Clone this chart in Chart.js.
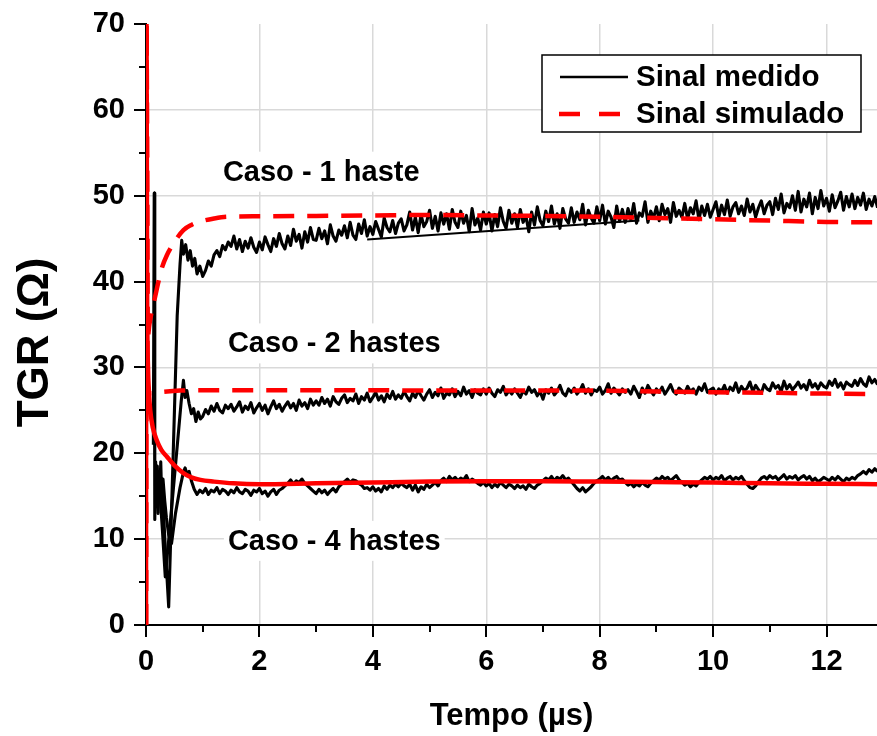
<!DOCTYPE html>
<html>
<head>
<meta charset="utf-8">
<script src="https://cdn.jsdelivr.net/npm/chart.js@4.4.1/dist/chart.umd.min.js"></script>
<style>
  html, body { margin: 0; padding: 0; background: #fff; }
  canvas { display: block; }
</style>
</head>
<body>
<canvas id="grafico" width="877" height="736"></canvas>
<script>
// ---- Marcas dos eixos ----
const marcasTempo = [0, 1, 2, 3, 4, 5, 6, 7, 8, 9, 10, 11, 12];
const marcasTGR = [0, 5, 10, 15, 20, 25, 30, 35, 40, 45, 50, 55, 60, 65, 70];

// ---- Sinal simulado (curvas suaves) ----
const tempoSim1 = [0, 0.008, 0.03, 0.06, 0.10, 0.16, 0.22, 0.28, 0.37, 0.52, 0.66, 0.80, 0.96, 1.2, 1.43, 2, 3, 4, 5, 6, 7, 8, 9, 10, 11, 12, 12.9];
const simulado1 = [0, 72, 33.5, 35, 36.5, 38.2, 40, 41.6, 43.1, 44.8, 46.0, 46.6, 47.0, 47.35, 47.55, 47.6, 47.65, 47.7, 47.75, 47.7, 47.65, 47.55, 47.4, 47.25, 47.1, 46.95, 46.9];

const tempoSim2 = [0, 0.008, 0.03, 0.06, 0.1, 0.3, 0.6, 1, 2, 3, 4, 5, 6, 7, 8, 9, 10, 11, 12, 12.9];
const simulado2 = [0, 72, 27.6, 27.0, 27.0, 27.15, 27.3, 27.35, 27.35, 27.35, 27.35, 27.3, 27.3, 27.3, 27.3, 27.2, 27.1, 27.05, 26.95, 26.9];

const tempoSim4 = [0, 0.008, 0.02, 0.035, 0.05, 0.075, 0.12, 0.19, 0.27, 0.37, 0.5, 0.66, 0.8, 0.96, 1.2, 1.54, 2, 3, 4, 5, 6, 7, 8, 9, 10, 11, 12, 12.9];
const simulado4 = [0, 72, 38, 30, 27.4, 25, 23, 21.5, 20.4, 19.6, 18.6, 17.7, 17.2, 16.9, 16.7, 16.5, 16.4, 16.5, 16.6, 16.7, 16.75, 16.75, 16.7, 16.65, 16.6, 16.5, 16.45, 16.4];

// ---- Sinal medido: trecho transitório (instantes irregulares) ----
const tempoTrans1 = [0.28, 0.34, 0.40, 0.48, 0.55, 0.60, 0.63, 0.66, 0.70, 0.74, 0.78, 0.82, 0.86, 0.90, 0.95];
const medidoTrans1 = [17, 9, 2.1, 20, 36, 42, 44.8, 43.2, 44.3, 42.5, 43.6, 41.8, 42.7, 40.9, 41.8];

const tempoTrans2 = [0.24, 0.29, 0.34, 0.45, 0.55, 0.62, 0.66, 0.69, 0.72, 0.76, 0.80, 0.84, 0.88, 0.92, 0.96];
const medidoTrans2 = [16, 11, 5.6, 13.5, 20.8, 26, 28.5, 26.5, 27.3, 25.8, 24.6, 25.2, 23.7, 24.8, 24.0];

const tempoTrans4 = [0.13, 0.145, 0.155, 0.17, 0.185, 0.20, 0.215, 0.23, 0.245, 0.26, 0.28, 0.30, 0.33, 0.36, 0.40, 0.45, 0.52, 0.60, 0.66, 0.69, 0.72, 0.76, 0.80, 0.85, 0.90, 0.95];
const medidoTrans4 = [21, 50.3, 12.3, 19, 14.5, 18.5, 13, 17.5, 15, 19, 14, 17, 14.5, 12.5, 10.5, 9.5, 13, 16, 17.8, 18.3, 17.6, 17.9, 16.8, 15.8, 15.2, 15.7];

// ---- Sinal medido: registro amostrado a cada 0,05 µs a partir de 1,0 µs ----
const INICIO_AMOSTRAS = 1.0;
const PASSO_AMOSTRAS = 0.05;

const medido1 = [
  40.6, 41.3, 42.4, 41.8, 43.1, 43.6, 42.9, 44.2, 43.7, 44.6,
  44.1, 45.3, 43.8, 44.9, 43.5, 44.7, 43.9, 45.1, 44.0, 43.4,
  44.6, 43.7, 45.2, 44.3, 43.5, 45.0, 44.1, 45.6, 44.4, 43.8,
  45.3, 44.2, 46.1, 44.7, 45.5, 43.9, 45.8, 44.6, 46.3, 44.9,
  44.8, 46.2, 45.0, 45.9, 44.4, 46.6, 45.3, 44.7, 46.0, 45.4,
  46.5, 45.1, 46.9, 45.4, 44.9, 46.7, 45.6, 47.2, 45.3, 46.4,
  45.5, 47.0, 46.1, 45.2, 47.4, 46.3, 45.8, 47.1, 45.6, 46.8,
  47.3, 45.9, 46.6, 48.1, 46.0, 47.5, 45.7, 47.8, 46.4, 47.0,
  48.3, 46.2, 47.6, 45.9, 48.0, 46.7, 47.9, 46.1, 48.4, 46.9,
  46.3, 48.2, 46.8, 47.7, 45.8, 48.5, 46.6, 47.4, 46.0, 48.1,
  46.7, 48.0, 45.9, 47.8, 46.4, 48.6, 47.0, 46.2, 48.3, 46.8,
  47.9, 46.3, 48.4, 46.9, 47.6, 45.8, 48.1, 46.6, 48.7, 47.1,
  46.5, 48.2, 47.0, 48.8, 46.7, 47.9, 46.2, 48.5, 47.3, 46.8,
  48.6, 46.9, 48.1, 47.2, 49.0, 46.6, 48.3, 47.4, 46.8, 48.7,
  47.1, 48.9, 46.7, 48.2, 47.5, 46.3, 48.8, 47.0, 48.4, 46.9,
  48.5, 47.2, 49.1, 46.8, 48.0, 47.6, 49.3, 46.9, 48.2, 47.4,
  48.7, 47.1, 49.0, 47.8, 48.5, 46.9, 49.2, 47.6, 48.3, 47.5,
  49.1, 47.3, 48.6, 47.9, 49.4, 47.2, 48.8, 47.7, 49.0, 47.5,
  48.4, 49.3, 47.5, 48.9, 47.8, 49.5, 47.6, 48.7, 49.2, 47.9,
  48.8, 47.7, 49.6, 48.1, 49.0, 47.5, 48.6, 49.4, 47.9, 48.9,
  49.3, 47.8, 49.7, 48.4, 50.2, 48.0, 49.1, 48.6, 50.0, 48.3,
  50.5, 48.1, 49.6, 48.7, 50.3, 47.9, 49.8, 48.5, 50.6, 48.8,
  49.7, 48.2, 50.1, 48.6, 49.4, 50.4, 48.3, 49.9, 48.7, 50.2,
  48.5, 49.8, 48.9, 50.3, 48.4, 49.6, 48.8, 49.9, 48.6
];

const medido2 = [
  24.3, 25.1, 24.6, 25.5, 24.9, 25.8, 25.0, 24.7, 25.6, 25.2,
  25.7, 24.9, 25.4, 26.0, 24.8, 25.5, 25.1, 25.9, 24.7, 25.3,
  25.8, 25.0, 25.6, 24.6, 25.4, 26.1, 25.2, 25.7, 24.9, 25.5,
  26.0, 25.3, 25.8, 25.0, 26.2, 25.5, 25.9, 25.2, 26.3, 25.6,
  26.1, 25.6, 26.5, 25.8, 26.3, 25.5, 26.6, 26.0, 25.7, 26.4,
  26.8, 25.9, 26.4, 26.1, 26.9, 25.8, 26.6, 26.2, 27.0, 26.0,
  26.5, 27.1, 26.2, 26.7, 26.0, 26.9, 26.4, 27.2, 26.3, 26.8,
  26.4, 27.2, 26.6, 26.1, 27.0, 26.5, 27.3, 26.7, 26.2, 26.9,
  27.4, 26.5, 27.1, 26.7, 27.6, 26.4, 27.0, 26.8, 27.5, 26.6,
  27.2, 26.7, 27.7, 26.9, 27.3, 26.5, 27.4, 27.0, 26.8, 27.5,
  26.9, 27.6, 27.0, 26.6, 27.4, 27.1, 27.8, 26.8, 27.3, 26.9,
  27.5, 27.0, 26.5, 27.3, 26.9, 27.7, 27.1, 27.4, 26.7, 27.2,
  26.3, 27.4, 27.0, 27.6, 26.8, 27.2, 27.9, 27.0, 26.7, 27.5,
  27.1, 27.6, 26.9, 27.3, 28.0, 27.0, 27.5, 26.8, 27.4, 27.2,
  27.7, 26.9, 27.3, 28.1, 27.0, 27.6, 27.2, 26.8, 27.5, 27.1,
  27.4, 26.9, 27.8, 27.2, 26.5, 27.6, 27.0, 27.9, 27.3, 26.8,
  27.5, 27.1, 27.7, 26.9, 27.4, 28.0, 27.2, 26.9, 27.6, 27.3,
  27.0, 27.8, 27.2, 27.5, 26.9, 27.7, 27.3, 28.1, 27.1, 27.4,
  27.6, 26.9, 27.5, 27.2, 27.9, 27.0, 27.7, 27.3, 28.2, 27.1,
  27.8, 27.3, 27.6, 28.3, 27.2, 27.9, 27.4, 27.0, 28.0, 27.5,
  27.3, 28.2, 27.6, 27.9, 27.2, 28.4, 27.5, 28.0, 27.4, 27.8,
  28.3, 27.6, 28.0, 27.4, 28.5, 27.7, 28.1, 27.5, 28.2, 27.8,
  27.6, 28.4, 27.9, 28.6, 27.7, 28.2, 27.5, 28.3, 28.0, 27.8,
  28.5, 27.9, 28.7, 28.1, 27.8, 28.9, 28.2, 28.6, 28.0
];

const medido4 = [
  15.4, 15.9, 15.2, 15.7, 15.5, 16.0, 15.3, 15.8, 15.6, 15.2,
  15.7, 15.4, 16.0, 15.5, 15.3, 15.8, 15.6, 15.1, 15.7, 15.5,
  15.9, 15.3, 15.6, 15.0, 15.5, 15.8, 15.2, 15.7, 15.9, 16.2,
  16.5, 16.9, 16.4, 16.8, 16.6, 17.0, 16.5, 16.2, 15.9, 15.6,
  15.3, 15.8, 15.4, 15.7, 15.2, 15.6, 15.9, 15.5, 16.1, 16.4,
  16.7, 17.0, 16.6, 16.9, 16.8, 16.5, 16.3, 15.9, 16.0, 15.7,
  16.1, 15.6, 15.9, 15.5, 16.2, 15.8, 16.3, 16.0, 16.4, 16.1,
  16.5, 16.2, 16.0, 16.4, 15.7, 16.3, 15.5, 16.1, 15.8, 16.4,
  16.0, 16.3, 16.6, 16.2, 16.8, 17.1, 16.7, 17.3, 16.9, 17.2,
  16.8, 17.1, 16.9, 17.4, 16.7, 17.0, 16.8, 16.5, 16.3, 16.6,
  16.2, 16.5, 16.0, 16.4, 16.1, 16.6, 16.3, 16.0, 16.4, 16.2,
  15.9, 16.3, 16.0, 16.2, 15.8, 16.4, 16.1, 15.9, 16.3, 16.5,
  16.8, 17.1, 16.9, 17.3, 16.8, 17.2, 17.0, 17.4, 16.9, 17.1,
  16.7, 16.3, 15.9, 15.6, 16.0, 15.5, 15.8, 16.1, 16.5, 16.8,
  17.0, 17.3, 16.9, 17.2, 16.8, 17.1, 17.3, 16.9, 17.0, 16.6,
  16.3, 16.5, 16.1, 16.4, 16.2, 16.6, 16.3, 16.1, 16.5, 16.8,
  17.1, 16.9, 17.3, 17.0, 17.2, 16.8, 17.1, 17.4, 16.9, 16.6,
  16.3, 16.5, 16.1, 16.4, 16.2, 16.6, 16.9, 17.2, 17.0, 17.3,
  16.9, 17.2, 17.0, 17.4, 16.8, 17.1, 17.3, 16.9, 17.2, 17.0,
  17.3, 16.8, 16.4, 16.0, 15.9, 16.2, 16.7, 17.1, 17.3, 17.0,
  17.4, 17.1, 17.3, 16.9, 17.2, 17.5, 17.0, 17.3, 17.1, 17.4,
  16.9, 17.2, 17.4, 17.0, 17.3, 16.8, 17.1, 16.7, 16.9, 17.2,
  17.0, 16.8, 17.2, 16.9, 17.3, 17.0, 16.7, 17.1, 16.9, 17.2,
  17.0, 17.4, 17.6, 17.9, 17.6, 18.1, 17.8, 18.2, 17.9
];

// Trecho contínuo do registro medido (caso 1 haste) que atravessa o ruído
const tempoTrecho1 = [3.9, 8.7];
const medidoTrecho1 = [44.9, 47.1];

// ---- Textos ----
const rotulosCasos = ['Caso - 1 haste', 'Caso - 2 hastes', 'Caso - 4 hastes'];
const rotuloMedido = 'Sinal medido';
const rotuloSimulado = 'Sinal simulado';
const tituloX = 'Tempo (\u00B5s)';
const tituloY = 'TGR (\u03A9)';

// ---- Montagem dos pontos ----
function pares(ts, vs) { return vs.map((v, i) => ({ x: ts[i], y: v })); }
function amostras(vs) {
  return vs.map((v, i) => ({ x: +(INICIO_AMOSTRAS + i * PASSO_AMOSTRAS).toFixed(3), y: v }));
}
const serieMedida1 = pares(tempoTrans1, medidoTrans1).concat(amostras(medido1));
const serieMedida2 = pares(tempoTrans2, medidoTrans2).concat(amostras(medido2));
const serieMedida4 = pares(tempoTrans4, medidoTrans4).concat(amostras(medido4));

const FONTE = '"Liberation Sans", Arial, Helvetica, sans-serif';
const VERMELHO = '#ff0000';

const estiloMedido = { borderColor: '#000', borderWidth: 3.1, pointRadius: 0, tension: 0, fill: false, borderJoinStyle: 'round' };
const estiloSimTracejado = { borderColor: VERMELHO, borderWidth: 4.5, borderDash: [21, 13], pointRadius: 0, cubicInterpolationMode: 'monotone', fill: false };
const estiloSimCheio = { borderColor: VERMELHO, borderWidth: 4.5, pointRadius: 0, cubicInterpolationMode: 'monotone', fill: false };

// Posição das anotações (em unidades dos eixos)
const posCasos = [ { t: 3.09, v: 52.8 }, { t: 3.32, v: 32.8 }, { t: 3.32, v: 9.8 } ];

const anotacoes = {
  id: 'anotacoes',
  beforeDatasetsDraw(chart) {
    const { ctx, scales: { x, y } } = chart;
    ctx.save();
    ctx.font = 'bold 29px ' + FONTE;
    ctx.textAlign = 'center';
    ctx.textBaseline = 'middle';
    rotulosCasos.forEach((txt, i) => {
      const px = x.getPixelForValue(posCasos[i].t);
      const py = y.getPixelForValue(posCasos[i].v);
      const w = ctx.measureText(txt).width;
      ctx.fillStyle = '#fff';
      ctx.fillRect(px - w / 2 - 4, py - 20, w + 8, 40);
      ctx.fillStyle = '#000';
      ctx.fillText(txt, px, py + 1);
    });
    ctx.restore();
  },
  afterDraw(chart) {
    const { ctx, scales: { x, y }, chartArea: a } = chart;
    ctx.save();
    // marcas dos eixos (principais e secundárias)
    ctx.strokeStyle = '#000';
    ctx.lineWidth = 2;
    x.ticks.forEach(t => {
      const px = Math.round(x.getPixelForValue(t.value));
      const len = t.value % 2 === 0 ? 12 : 7;
      ctx.beginPath(); ctx.moveTo(px, a.bottom); ctx.lineTo(px, a.bottom + len); ctx.stroke();
    });
    y.ticks.forEach(t => {
      const py = Math.round(y.getPixelForValue(t.value));
      const len = t.value % 10 === 0 ? 12 : 7;
      ctx.beginPath(); ctx.moveTo(a.left, py); ctx.lineTo(a.left - len, py); ctx.stroke();
    });

    // títulos dos eixos
    ctx.fillStyle = '#000';
    ctx.textAlign = 'center';
    ctx.textBaseline = 'middle';
    ctx.font = 'bold 31px ' + FONTE;
    ctx.fillText(tituloX, (a.left + a.right) / 2, 716);
    ctx.save();
    ctx.translate(36, (a.top + a.bottom) / 2 + 18);
    ctx.rotate(-Math.PI / 2);
    ctx.font = 'bold 44px ' + FONTE;
    ctx.fillText(tituloY, 0, 0);
    ctx.restore();

    // legenda
    const bx = 542, by = 55, bw = 319, bh = 77;
    ctx.fillStyle = '#fff';
    ctx.fillRect(bx, by, bw, bh);
    ctx.strokeStyle = '#000';
    ctx.lineWidth = 1.5;
    ctx.strokeRect(bx, by, bw, bh);

    ctx.lineWidth = 2.5;
    ctx.beginPath(); ctx.moveTo(560, 77); ctx.lineTo(628, 77); ctx.stroke();
    ctx.strokeStyle = VERMELHO;
    ctx.lineWidth = 4.5;
    ctx.setLineDash([21, 19]);
    ctx.beginPath(); ctx.moveTo(559, 114); ctx.lineTo(620, 114); ctx.stroke();
    ctx.setLineDash([]);

    ctx.fillStyle = '#000';
    ctx.textAlign = 'left';
    ctx.font = 'bold 29.5px ' + FONTE;
    ctx.fillText(rotuloMedido, 636, 78);
    ctx.fillText(rotuloSimulado, 636, 115);
    ctx.restore();
  }
};

new Chart(document.getElementById('grafico'), {
  type: 'line',
  data: {
    datasets: [
      Object.assign({ label: rotuloSimulado, data: pares(tempoSim1, simulado1) }, estiloSimTracejado),
      Object.assign({ label: rotuloSimulado, data: pares(tempoSim2, simulado2) }, estiloSimTracejado),
      Object.assign({ label: rotuloSimulado, data: pares(tempoSim4, simulado4) }, estiloSimCheio),
      Object.assign({ label: rotuloMedido, data: serieMedida1 }, estiloMedido),
      Object.assign({ label: rotuloMedido, data: serieMedida2 }, estiloMedido),
      Object.assign({ label: rotuloMedido, data: serieMedida4 }, estiloMedido),
      Object.assign({ label: rotuloMedido, data: pares(tempoTrecho1, medidoTrecho1) }, estiloMedido, { borderWidth: 2 })
    ]
  },
  options: {
    responsive: false,
    animation: false,
    devicePixelRatio: 1,
    layout: { padding: { top: 24, right: 0, left: 0, bottom: 0 } },
    plugins: { legend: { display: false }, tooltip: { enabled: false } },
    scales: {
      x: {
        type: 'linear',
        min: 0,
        max: 12.89,
        afterBuildTicks: s => { s.ticks = marcasTempo.map(v => ({ value: v })); },
        afterFit: s => { s.height = 111; s.paddingLeft = 0; s.paddingRight = 0; },
        border: { color: '#000', width: 2 },
        grid: {
          drawTicks: false,
          lineWidth: 1.5,
          color: c => (c.tick && c.tick.value % 2 === 0 && c.tick.value !== 0) ? '#d9d9d9' : 'rgba(0,0,0,0)'
        },
        ticks: {
          autoSkip: false,
          maxRotation: 0,
          padding: 20,
          color: '#000',
          font: { family: FONTE, size: 29, weight: 'bold' },
          callback: v => (v % 2 === 0 ? String(v) : '')
        }
      },
      y: {
        min: 0,
        max: 70,
        afterBuildTicks: s => { s.ticks = marcasTGR.map(v => ({ value: v })); },
        afterFit: s => { s.width = 146; s.paddingTop = 0; s.paddingBottom = 0; },
        border: { color: '#000', width: 2 },
        grid: {
          drawTicks: false,
          lineWidth: 1.5,
          color: c => (c.tick && c.tick.value % 10 === 0 && c.tick.value !== 0 && c.tick.value !== 70) ? '#d9d9d9' : 'rgba(0,0,0,0)'
        },
        ticks: {
          autoSkip: false,
          padding: 21,
          color: '#000',
          font: { family: FONTE, size: 29, weight: 'bold' },
          callback: v => (v % 10 === 0 ? String(v) : '')
        }
      }
    }
  },
  plugins: [anotacoes]
});
</script>
</body>
</html>
